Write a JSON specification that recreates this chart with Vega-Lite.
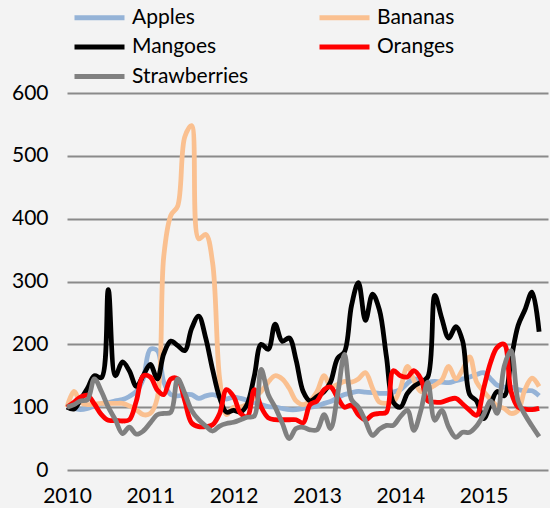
{
  "$schema": "https://vega.github.io/schema/vega-lite/v6.json",
  "width": 481,
  "height": 377,
  "autosize": "none",
  "padding": {"left": 67, "top": 93, "right": 2, "bottom": 38},
  "background": "#f3f3f3",
  "config": {"view": {"stroke": null}, "font": "Lato"},
  "data": {"values": [
    {"date": "2010/01/01", "Apples": 100, "Bananas": 100, "Mangoes": 100, "Oranges": 100, "Strawberries": 100},
    {"date": "2010/02/01", "Apples": 98, "Bananas": 125, "Mangoes": 97, "Oranges": 108, "Strawberries": 104},
    {"date": "2010/03/01", "Apples": 96, "Bananas": 108, "Mangoes": 112, "Oranges": 116, "Strawberries": 110},
    {"date": "2010/04/01", "Apples": 98, "Bananas": 104, "Mangoes": 130, "Oranges": 119, "Strawberries": 112},
    {"date": "2010/05/01", "Apples": 102, "Bananas": 105, "Mangoes": 150, "Oranges": 105, "Strawberries": 145},
    {"date": "2010/06/01", "Apples": 105, "Bananas": 106, "Mangoes": 147, "Oranges": 88, "Strawberries": 125},
    {"date": "2010/07/01", "Apples": 107, "Bananas": 106, "Mangoes": 287, "Oranges": 79, "Strawberries": 100},
    {"date": "2010/08/01", "Apples": 110, "Bananas": 106, "Mangoes": 150, "Oranges": 79, "Strawberries": 80},
    {"date": "2010/09/01", "Apples": 112, "Bananas": 106, "Mangoes": 172, "Oranges": 78, "Strawberries": 58},
    {"date": "2010/10/01", "Apples": 117, "Bananas": 102, "Mangoes": 158, "Oranges": 80, "Strawberries": 68},
    {"date": "2010/11/01", "Apples": 125, "Bananas": 96, "Mangoes": 133, "Oranges": 110, "Strawberries": 57},
    {"date": "2010/12/01", "Apples": 145, "Bananas": 88, "Mangoes": 150, "Oranges": 150, "Strawberries": 62},
    {"date": "2011/01/01", "Apples": 192, "Bananas": 90, "Mangoes": 168, "Oranges": 148, "Strawberries": 75},
    {"date": "2011/02/01", "Apples": 190, "Bananas": 115, "Mangoes": 145, "Oranges": 127, "Strawberries": 88},
    {"date": "2011/03/01", "Apples": 140, "Bananas": 340, "Mangoes": 185, "Oranges": 120, "Strawberries": 90},
    {"date": "2011/04/01", "Apples": 120, "Bananas": 405, "Mangoes": 205, "Oranges": 145, "Strawberries": 92},
    {"date": "2011/05/01", "Apples": 118, "Bananas": 420, "Mangoes": 198, "Oranges": 145, "Strawberries": 145},
    {"date": "2011/06/01", "Apples": 120, "Bananas": 530, "Mangoes": 190, "Oranges": 110, "Strawberries": 122},
    {"date": "2011/07/01", "Apples": 120, "Bananas": 548, "Mangoes": 225, "Oranges": 75, "Strawberries": 95},
    {"date": "2011/08/01", "Apples": 114, "Bananas": 368, "Mangoes": 245, "Oranges": 69, "Strawberries": 80},
    {"date": "2011/09/01", "Apples": 118, "Bananas": 375, "Mangoes": 210, "Oranges": 69, "Strawberries": 70},
    {"date": "2011/10/01", "Apples": 120, "Bananas": 330, "Mangoes": 160, "Oranges": 72, "Strawberries": 62},
    {"date": "2011/11/01", "Apples": 117, "Bananas": 145, "Mangoes": 115, "Oranges": 90, "Strawberries": 70},
    {"date": "2011/12/01", "Apples": 113, "Bananas": 88, "Mangoes": 92, "Oranges": 128, "Strawberries": 74},
    {"date": "2012/01/01", "Apples": 116, "Bananas": 100, "Mangoes": 95, "Oranges": 117, "Strawberries": 76},
    {"date": "2012/02/01", "Apples": 114, "Bananas": 100, "Mangoes": 92, "Oranges": 90, "Strawberries": 80},
    {"date": "2012/03/01", "Apples": 111, "Bananas": 105, "Mangoes": 105, "Oranges": 85, "Strawberries": 84},
    {"date": "2012/04/01", "Apples": 107, "Bananas": 115, "Mangoes": 150, "Oranges": 128, "Strawberries": 86},
    {"date": "2012/05/01", "Apples": 104, "Bananas": 125, "Mangoes": 200, "Oranges": 100, "Strawberries": 160},
    {"date": "2012/06/01", "Apples": 101, "Bananas": 140, "Mangoes": 192, "Oranges": 83, "Strawberries": 120},
    {"date": "2012/07/01", "Apples": 100, "Bananas": 150, "Mangoes": 232, "Oranges": 80, "Strawberries": 100},
    {"date": "2012/08/01", "Apples": 98, "Bananas": 145, "Mangoes": 205, "Oranges": 80, "Strawberries": 75},
    {"date": "2012/09/01", "Apples": 96, "Bananas": 130, "Mangoes": 210, "Oranges": 80, "Strawberries": 50},
    {"date": "2012/10/01", "Apples": 96, "Bananas": 110, "Mangoes": 175, "Oranges": 80, "Strawberries": 66},
    {"date": "2012/11/01", "Apples": 98, "Bananas": 104, "Mangoes": 125, "Oranges": 75, "Strawberries": 68},
    {"date": "2012/12/01", "Apples": 100, "Bananas": 110, "Mangoes": 110, "Oranges": 104, "Strawberries": 64},
    {"date": "2013/01/01", "Apples": 102, "Bananas": 125, "Mangoes": 117, "Oranges": 110, "Strawberries": 64},
    {"date": "2013/02/01", "Apples": 106, "Bananas": 150, "Mangoes": 125, "Oranges": 128, "Strawberries": 88},
    {"date": "2013/03/01", "Apples": 109, "Bananas": 133, "Mangoes": 140, "Oranges": 132, "Strawberries": 66},
    {"date": "2013/04/01", "Apples": 115, "Bananas": 136, "Mangoes": 178, "Oranges": 115, "Strawberries": 120},
    {"date": "2013/05/01", "Apples": 120, "Bananas": 141, "Mangoes": 188, "Oranges": 100, "Strawberries": 184},
    {"date": "2013/06/01", "Apples": 123, "Bananas": 140, "Mangoes": 262, "Oranges": 103, "Strawberries": 112},
    {"date": "2013/07/01", "Apples": 125, "Bananas": 145, "Mangoes": 298, "Oranges": 88, "Strawberries": 100},
    {"date": "2013/08/01", "Apples": 124, "Bananas": 155, "Mangoes": 238, "Oranges": 80, "Strawberries": 78},
    {"date": "2013/09/01", "Apples": 123, "Bananas": 130, "Mangoes": 280, "Oranges": 88, "Strawberries": 55},
    {"date": "2013/10/01", "Apples": 122, "Bananas": 108, "Mangoes": 255, "Oranges": 90, "Strawberries": 65},
    {"date": "2013/11/01", "Apples": 122, "Bananas": 106, "Mangoes": 180, "Oranges": 92, "Strawberries": 71},
    {"date": "2013/12/01", "Apples": 124, "Bananas": 108, "Mangoes": 108, "Oranges": 158, "Strawberries": 71},
    {"date": "2014/01/01", "Apples": 128, "Bananas": 130, "Mangoes": 100, "Oranges": 150, "Strawberries": 85},
    {"date": "2014/02/01", "Apples": 138, "Bananas": 165, "Mangoes": 122, "Oranges": 148, "Strawberries": 95},
    {"date": "2014/03/01", "Apples": 145, "Bananas": 143, "Mangoes": 133, "Oranges": 158, "Strawberries": 63},
    {"date": "2014/04/01", "Apples": 143, "Bananas": 125, "Mangoes": 140, "Oranges": 145, "Strawberries": 95},
    {"date": "2014/05/01", "Apples": 140, "Bananas": 128, "Mangoes": 148, "Oranges": 110, "Strawberries": 140},
    {"date": "2014/06/01", "Apples": 141, "Bananas": 135, "Mangoes": 278, "Oranges": 108, "Strawberries": 79},
    {"date": "2014/07/01", "Apples": 140, "Bananas": 143, "Mangoes": 242, "Oranges": 108, "Strawberries": 95},
    {"date": "2014/08/01", "Apples": 139, "Bananas": 165, "Mangoes": 210, "Oranges": 112, "Strawberries": 68},
    {"date": "2014/09/01", "Apples": 142, "Bananas": 145, "Mangoes": 228, "Oranges": 114, "Strawberries": 52},
    {"date": "2014/10/01", "Apples": 145, "Bananas": 160, "Mangoes": 205, "Oranges": 105, "Strawberries": 60},
    {"date": "2014/11/01", "Apples": 148, "Bananas": 180, "Mangoes": 120, "Oranges": 95, "Strawberries": 60},
    {"date": "2014/12/01", "Apples": 152, "Bananas": 140, "Mangoes": 110, "Oranges": 87, "Strawberries": 70},
    {"date": "2015/01/01", "Apples": 155, "Bananas": 125, "Mangoes": 82, "Oranges": 130, "Strawberries": 88},
    {"date": "2015/02/01", "Apples": 145, "Bananas": 112, "Mangoes": 105, "Oranges": 172, "Strawberries": 110},
    {"date": "2015/03/01", "Apples": 135, "Bananas": 102, "Mangoes": 125, "Oranges": 195, "Strawberries": 90},
    {"date": "2015/04/01", "Apples": 132, "Bananas": 98, "Mangoes": 118, "Oranges": 200, "Strawberries": 165},
    {"date": "2015/05/01", "Apples": 132, "Bananas": 90, "Mangoes": 175, "Oranges": 125, "Strawberries": 190},
    {"date": "2015/06/01", "Apples": 128, "Bananas": 95, "Mangoes": 230, "Oranges": 100, "Strawberries": 110},
    {"date": "2015/07/01", "Apples": 126, "Bananas": 128, "Mangoes": 255, "Oranges": 97, "Strawberries": 88},
    {"date": "2015/08/01", "Apples": 126, "Bananas": 146, "Mangoes": 283, "Oranges": 96, "Strawberries": 70},
    {"date": "2015/09/01", "Apples": 118, "Bananas": 133, "Mangoes": 220, "Oranges": 98, "Strawberries": 53}
  ]},
  "transform": [
    {"fold": ["Apples", "Bananas", "Mangoes", "Oranges", "Strawberries"], "as": ["series", "value"]}
  ],
  "mark": {"type": "line", "interpolate": "catmull-rom", "strokeWidth": 4.8, "strokeJoin": "round"},
  "encoding": {
    "x": {
      "field": "date",
      "type": "temporal",
      "scale": {"domain": [{"year": 2010, "month": 1, "date": 1}, {"year": 2015, "month": 10, "date": 10}]},
      "axis": {
        "format": "%Y",
        "values": [
          {"year": 2010, "month": 1, "date": 1},
          {"year": 2011, "month": 1, "date": 1},
          {"year": 2012, "month": 1, "date": 1},
          {"year": 2013, "month": 1, "date": 1},
          {"year": 2014, "month": 1, "date": 1},
          {"year": 2015, "month": 1, "date": 1}
        ],
        "grid": false,
        "ticks": false,
        "domain": false,
        "labelFlush": false,
        "labelFont": "Lato",
        "labelFontSize": 21,
        "labelColor": "#000000",
        "labelPadding": 15,
        "labelDx": 2,
        "title": null
      }
    },
    "y": {
      "field": "value",
      "type": "quantitative",
      "scale": {"domain": [0, 600]},
      "axis": {
        "values": [0, 100, 200, 300, 400, 500, 600],
        "grid": true,
        "gridColor": "#8a8a8a",
        "gridWidth": 2,
        "ticks": false,
        "domain": false,
        "labelFont": "Lato",
        "labelFontSize": 21,
        "labelColor": "#000000",
        "labelPadding": 19,
        "title": null
      }
    },
    "color": {
      "field": "series",
      "type": "nominal",
      "scale": {
        "domain": ["Apples", "Bananas", "Mangoes", "Oranges", "Strawberries"],
        "range": ["#95b3d7", "#fac090", "#000000", "#ff0000", "#808080"]
      },
      "legend": {
        "orient": "none",
        "legendX": 5,
        "legendY": -88,
        "direction": "horizontal",
        "columns": 2,
        "title": null,
        "symbolType": "M-1,0H4",
        "symbolSize": 400,
        "symbolStrokeWidth": 5,
        "labelFont": "Lato",
        "labelFontSize": 21,
        "labelColor": "#000000",
        "labelOffset": 35,
        "rowPadding": 6.5,
        "columnPadding": 60
      }
    }
  }
}
